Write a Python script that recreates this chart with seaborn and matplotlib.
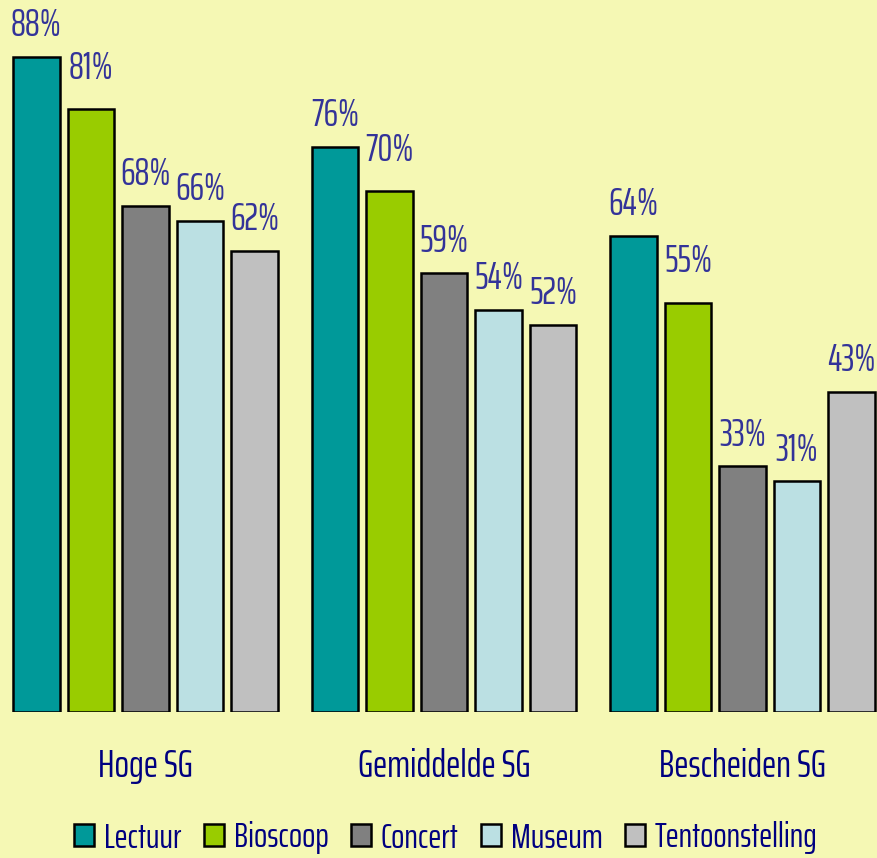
import matplotlib
matplotlib.use("Agg")
import matplotlib.pyplot as plt
import pandas as pd
import seaborn as sns

# data
groups = ["Hoge SG", "Gemiddelde SG", "Bescheiden SG"]
series = ["Lectuur", "Bioscoop", "Concert", "Museum", "Tentoonstelling"]
lectuur = [88, 76, 64]
bioscoop = [81, 70, 55]
concert = [68, 59, 33]
museum = [66, 54, 31]
tentoonstelling = [62, 52, 43]

colors = ["#009999", "#99CC00", "#808080", "#BBE0E3", "#C0C0C0"]
bg = "#F5F8B4"
# vertical gap (points) between bar top and its label, per series
label_pad = [15, 22, 15, 15, 15]

df = pd.DataFrame({
    "groep": groups * len(series),
    "activiteit": [s for s in series for _ in groups],
    "pct": lectuur + bioscoop + concert + museum + tentoonstelling,
})

sns.set_style("white", {"axes.facecolor": bg, "figure.facecolor": bg})
plt.rcParams["font.family"] = ["Saira ExtraCondensed", "Barlow Condensed", "DejaVu Sans"]
plt.rcParams["font.weight"] = "normal"

fig = plt.figure(figsize=(8.77, 8.58), dpi=100)
ax = fig.add_axes([0, 1 - 712 / 858, 1, 712 / 858])

sns.barplot(data=df, x="groep", y="pct", hue="activiteit", order=groups, hue_order=series,
            palette=colors, width=0.913, gap=0.14, edgecolor="black", linewidth=1.8,
            saturation=1, ax=ax)

for cont, pad in zip(ax.containers, label_pad):
    for bar in cont:
        h = bar.get_height()
        ax.annotate(f"{h:.0f}%", (bar.get_x() + bar.get_width() / 2, h),
                    xytext=(0, pad), textcoords="offset points",
                    ha="center", va="baseline", fontsize=27, color="#333399")

ax.set_xlim(-0.4874, 2.4506)
ax.set_ylim(0, 95.7)
ax.set_yticks([])
ax.set_xlabel("")
ax.set_ylabel("")
ax.tick_params(axis="x", length=0, pad=26, labelsize=27.5, labelcolor="#000080")
sns.despine(ax=ax, left=True, bottom=True)

sns.move_legend(ax, loc="center", bbox_to_anchor=(446 / 877, 1 - 838 / 858),
                bbox_transform=fig.transFigure, ncol=5, frameon=False, title=None,
                fontsize=25.2, labelcolor="#000080", handlelength=0.56, handleheight=0.56,
                handletextpad=0.29, columnspacing=0.64, borderpad=0, borderaxespad=0)

fig.savefig("out.png", facecolor=bg)
